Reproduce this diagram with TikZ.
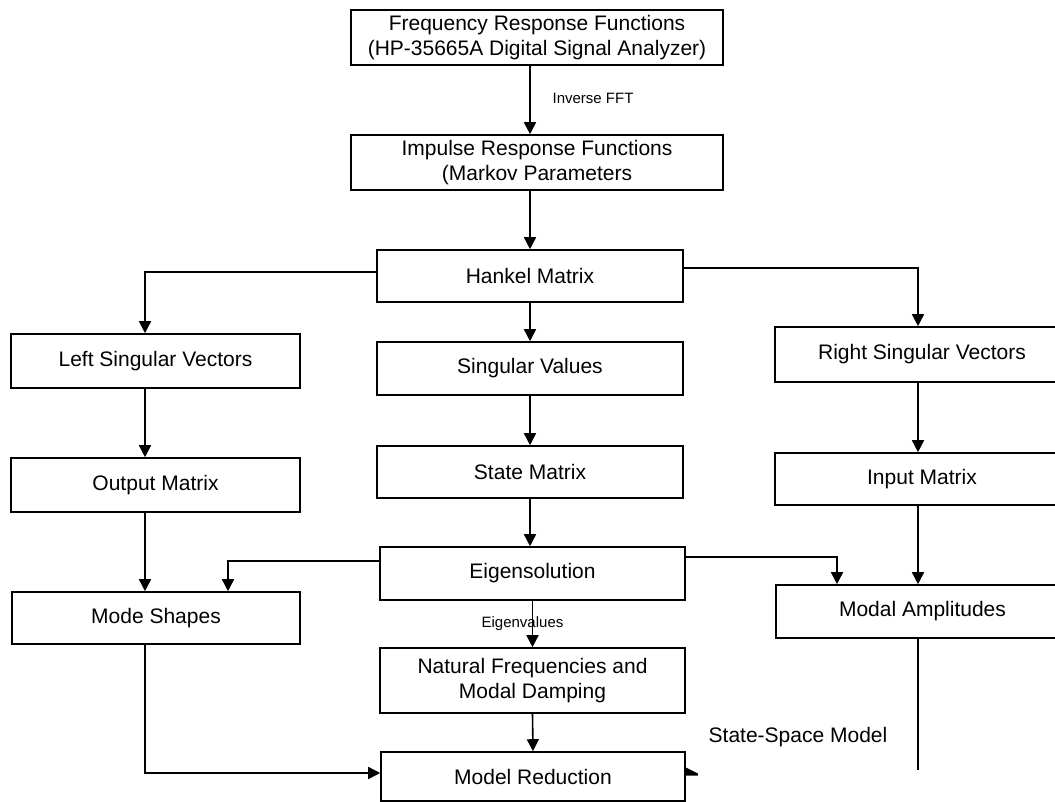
\documentclass[tikz,border=0pt]{standalone}
\usepackage{fontspec}
\setmainfont{Liberation Sans}
\usetikzlibrary{arrows.meta}
\begin{document}
\begin{tikzpicture}[x=1pt,y=-1pt,
  box/.style={draw, line width=1.6pt, rectangle, inner sep=0pt, align=center,
              font=\fontsize{21}{25}\selectfont},
  arr/.style={line width=1.6pt, -{Triangle[width=12pt,length=12pt]}},
  link/.style={line width=1.6pt},
  lbl/.style={font=\fontsize{15}{18}\selectfont, inner sep=0pt},
  note/.style={font=\fontsize{21}{25}\selectfont, inner sep=0pt}]
\useasboundingbox (0,0) rectangle (1055,802);

% centre column
\node[box, minimum width=372pt, minimum height=55pt] (frf) at (537,37.5)
  {Frequency Response Functions\\(HP-35665A Digital Signal Analyzer)};
\node[box, minimum width=372pt, minimum height=55pt] (irf) at (537,162.5)
  {Impulse Response Functions\\(Markov Parameters};
\node[box, minimum width=306pt, minimum height=52pt] (hk) at (530,276) {Hankel Matrix};
\node[box, minimum width=306pt, minimum height=53pt] (sv) at (530,368.5) {Singular Values};
\node[box, minimum width=306pt, minimum height=52pt] (sm) at (530,472) {State Matrix};
\node[box, minimum width=305pt, minimum height=53pt] (es) at (532.5,573.5) {Eigensolution};
\node[box, minimum width=305pt, minimum height=65pt] (nf) at (532.5,680.5)
  {Natural Frequencies and\\Modal Damping};
\node[box, minimum width=304pt, minimum height=49pt] (mr) at (533,776.5) {Model Reduction};

% left column
\node[box, minimum width=289pt, minimum height=54pt] (lsv) at (155.5,361) {Left Singular Vectors};
\node[box, minimum width=289pt, minimum height=54pt] (om) at (155.5,485) {Output Matrix};
\node[box, minimum width=288pt, minimum height=52pt] (ms) at (156,618) {Mode Shapes};

% right column
\node[box, minimum width=294pt, minimum height=55pt] (rsv) at (922,354.5) {Right Singular Vectors};
\node[box, minimum width=294pt, minimum height=52pt] (im) at (922,479) {Input Matrix};
\node[box, minimum width=293pt, minimum height=53pt] (ma) at (922.5,611.5) {Modal Amplitudes};

% labels
\node[lbl] (fft) at (593,98) {Inverse FFT};
\node[lbl] (eig) at (522.5,624) {Eigenvalues};
\node[note] (ssm) at (798,737) {State-Space Model};
\coordinate (ssend) at (918,770);

% connectors
\draw[arr] (frf.south -| hk) -- (irf.north -| hk);
\draw[arr] (irf.south -| hk) -- (hk.north);
\draw[arr] ([yshift=4pt]hk.west) -| ([xshift=-10.5pt]lsv.north);
\draw[arr] ([yshift=8pt]hk.east) -| ([xshift=-4pt]rsv.north);
\draw[arr] (hk.south) -- (sv.north);
\draw[arr] (sv.south) -- (sm.north);
\draw[arr] (sm.south) -- (sm.south |- es.north);
\draw[arr] ([xshift=-10.5pt]lsv.south) -- ([xshift=-10.5pt]om.north);
\draw[arr] ([xshift=-10.5pt]om.south) -- ([xshift=-11pt]ms.north);
\draw[arr] ([xshift=-4pt]rsv.south) -- ([xshift=-4pt]im.north);
\draw[arr] ([xshift=-4pt]im.south) -- ([xshift=-4.5pt]ma.north);
\draw[arr] ([yshift=12.5pt]es.west) -| ([xshift=72pt]ms.north);
\draw[arr] ([yshift=16.5pt]es.east) -| ([xshift=-85.5pt]ma.north);
\draw[arr] (es.south) -- (nf.north);
\draw[arr] (nf.south) -- (mr.north);
\draw[arr] ([xshift=-11pt]ms.south) |- ([yshift=3.5pt]mr.west);
\draw[link] ([xshift=-4.5pt]ma.south) -- (ssend);
\fill ([yshift=9pt]mr.east) -- ++(12,6) -- ++(0,2) -- ++(-12,0) -- cycle;
\end{tikzpicture}
\end{document}
